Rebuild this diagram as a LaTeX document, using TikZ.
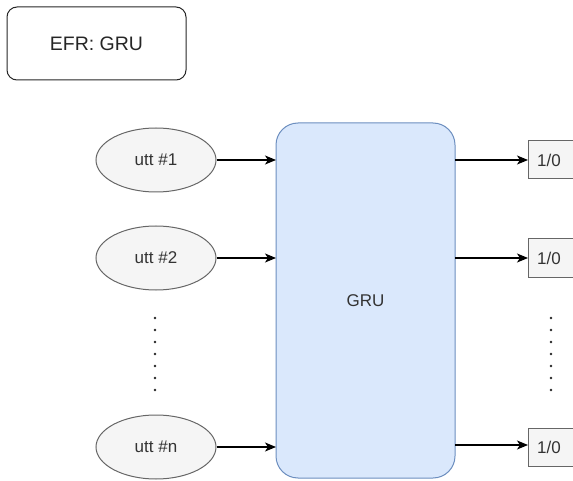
\documentclass[tikz,border=0pt]{standalone}
\usepackage{fontspec}
\setmainfont{Liberation Sans}
\usetikzlibrary{arrows.meta,shapes.geometric}
\definecolor{grufill}{HTML}{DAE8FC}
\definecolor{grudraw}{HTML}{6C8EBF}
\definecolor{grayfill}{HTML}{F5F5F5}
\definecolor{graydraw}{HTML}{666666}
\definecolor{txt}{HTML}{333333}
\begin{document}
\begin{tikzpicture}[x=1pt,y=-1pt,
  uttnode/.style={ellipse,draw=graydraw,fill=grayfill,line width=1pt,minimum width=120pt,minimum height=64pt,inner sep=0pt,font=\fontsize{17}{19}\selectfont,text=txt},
  outbox/.style={draw=graydraw,fill=grayfill,line width=1pt,minimum width=52pt,minimum height=38pt,inner sep=0pt,anchor=west},
  outtxt/.style={font=\fontsize{17}{19}\selectfont,text=txt},
  conn/.style={line width=1.2pt,-{Stealth[length=11pt,width=9pt,inset=3pt]}},
  dotmark/.style={circle,fill=black!85,inner sep=0pt,minimum size=2.8pt}]
\useasboundingbox (0,0) rectangle (573,481);
\begin{scope}
\clip (0,0) rectangle (573,481);
\node[draw=black!85,rounded corners=10pt,line width=1pt,minimum width=179pt,minimum height=73pt,font=\fontsize{19.5}{22}\selectfont,text=black!85] (efr) at (96.5,43.5) {EFR: GRU};
\node[draw=grudraw,fill=grufill,rounded corners=22pt,line width=1pt,minimum width=179pt,minimum height=355pt,inner sep=0pt,font=\fontsize{17}{19}\selectfont,text=txt] (gru) at (365.5,300.5) {GRU};
\node[uttnode] (u1) at (156,160) {utt \#1};
\node[uttnode] (u2) at (156,258) {utt \#2};
\node[uttnode] (un) at (156,447) {utt \#n};
\node[outbox] (o1) at (528,160) {};
\node[outbox] (o2) at (528,258) {};
\node[outbox] (on) at (528,447) {};
\node[outtxt] (t1) at (549,160) {1/0};
\node[outtxt] (t2) at (549,258) {1/0};
\node[outtxt] (tn) at (549,447) {1/0};
\coordinate (gi1) at (276,160);
\coordinate (gi2) at (276,258);
\coordinate (gin) at (276,447);
\coordinate (go1) at (455,160);
\coordinate (go2) at (455,258);
\coordinate (gon) at (455,445);
\draw[conn] (u1.east) -- (gi1);
\draw[conn] (u2.east) -- (gi2);
\draw[conn] (un.east) -- (gin);
\draw[conn] (go1) -- (o1.west);
\draw[conn] (go2) -- (o2.west);
\draw[conn] (gon) -- (on.west |- gon);
\foreach \i in {0,...,6} {
  \node[dotmark] (ld\i) at (155,318+12*\i) {};
  \node[dotmark] (rd\i) at (551,318+12*\i) {};
}
\end{scope}
\end{tikzpicture}
\end{document}
